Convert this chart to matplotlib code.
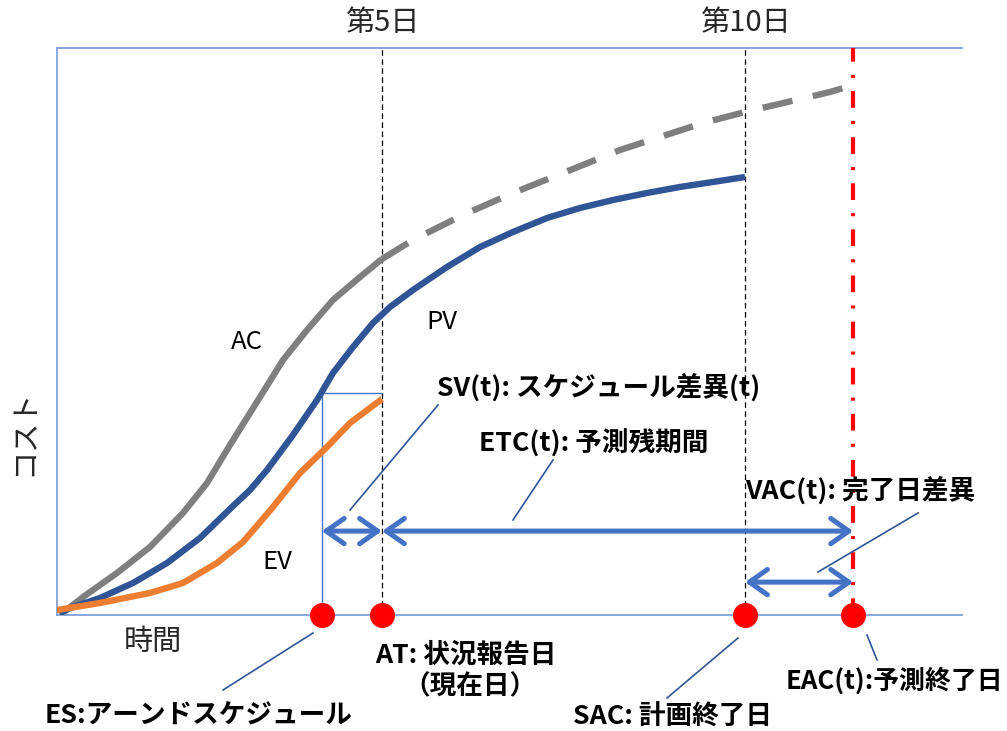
import matplotlib
matplotlib.use("Agg")
import matplotlib.pyplot as plt
from matplotlib.patches import FancyArrowPatch
from matplotlib.lines import Line2D

plt.rcParams['font.family'] = ['Noto Sans CJK JP', 'DejaVu Sans']
plt.rcParams['lines.scale_dashes'] = False

# ---- data (time in days, cost in arbitrary units 0-100) ----
pv_t = [0.565, 0.702, 1.116, 1.570, 2.039, 2.493, 2.948, 3.182, 3.416, 3.774, 4.105, 4.325,
        4.601, 4.876, 5.110, 5.427, 5.895, 6.350, 6.804, 7.273, 7.727, 8.182, 8.650, 9.105,
        9.559, 10.0]
pv_c = [0.35, 1.23, 3.00, 5.64, 9.17, 13.58, 19.22, 22.05, 25.57, 31.75, 37.92, 42.68,
        47.27, 51.50, 54.32, 57.32, 61.38, 64.90, 67.55, 70.02, 71.78, 73.19, 74.43, 75.49,
        76.37, 77.25]

ac_t = [0.565, 0.882, 1.350, 1.804, 2.259, 2.590, 2.906, 3.320, 3.636, 3.967, 4.325, 4.697, 5.0]
ac_c = [0.0, 3.17, 7.41, 11.99, 17.99, 23.28, 29.98, 38.45, 44.97, 50.26, 55.56, 59.61, 62.79]

ac_fc_t = [5.0, 5.427, 6.116, 6.804, 7.493, 8.278, 9.421, 10.0, 11.171, 11.49]
ac_fc_c = [62.79, 66.14, 70.55, 74.43, 77.95, 82.01, 86.77, 88.71, 92.24, 93.47]

ev_t = [0.523, 1.116, 1.804, 2.259, 2.727, 3.085, 3.499, 3.871, 4.242, 4.559, 5.0]
ev_c = [0.88, 2.12, 3.88, 5.64, 9.17, 12.87, 19.05, 25.04, 29.63, 33.86, 38.10]

es_day = 4.17     # earned schedule
at_day = 5.0      # actual time (status date)
sac_day = 10.0    # schedule at completion
eac_day = 11.49   # estimate at completion
ev_now = 39.1     # level of the ES projection

top_labels = ['第5日', '第10日']
top_days = [at_day, sac_day]

# ---- figure / axes ----
W, H = 1007, 731
fig = plt.figure(figsize=(W / 100, H / 100), dpi=100)
L, R, T, B = 57, 962, 48, 615
ax = fig.add_axes([L / W, 1 - B / H, (R - L) / W, (B - T) / H])
ppd = 72.6  # pixels per day
ax.set_xlim(5 + (L - 382) / ppd, 5 + (R - 382) / ppd)
ax.set_ylim(0, 100)
ax.set_xticks([])
ax.set_yticks([])
spine_col = '#7F9FDA'
for s in ['left', 'top', 'bottom']:
    ax.spines[s].set_color(spine_col)
    ax.spines[s].set_linewidth(1.3)
ax.spines['right'].set_visible(False)


def px(x, y):
    return (x / W, 1 - y / H)


# vertical reference lines
for d in top_days:
    ax.plot([d, d], [0, 100], color='black', lw=0.9, dashes=(4, 2.5), zorder=2)
ax.plot([eac_day, eac_day], [0, 100], color='#FF0000', lw=3.0,
        dashes=(12, 9.5, 2.2, 9.5), zorder=3)

# ES projection lines
ax.plot([es_day, at_day], [ev_now, ev_now], color='#4472C4', lw=1.0, zorder=2)
ax.plot([es_day, es_day], [0, ev_now], color='#4472C4', lw=1.0, zorder=2)

# curves
lw_c = 4.6
ax.plot(ac_t, ac_c, color='#7F7F7F', lw=lw_c, solid_joinstyle='round', solid_capstyle='butt', zorder=4)
ax.plot(ac_fc_t, ac_fc_c, color='#7F7F7F', lw=lw_c, dashes=(22, 15), zorder=4)
ax.plot(pv_t, pv_c, color='#2F5597', lw=lw_c, solid_joinstyle='round', solid_capstyle='butt', zorder=5)
ax.plot(ev_t, ev_c, color='#ED7D31', lw=lw_c, solid_joinstyle='round', solid_capstyle='butt', zorder=6)

# double arrows
arrow_col = '#4472C4'
y_arrow = 14.8
y_vac = 5.8
for x0, x1, y in [(es_day, at_day, y_arrow), (at_day, eac_day, y_arrow), (sac_day, eac_day, y_vac)]:
    a = FancyArrowPatch((x0, y), (x1, y), arrowstyle='<->,head_length=0.5,head_width=0.35',
                        mutation_scale=26, color=arrow_col, lw=3.6, shrinkA=0, shrinkB=0,
                        capstyle='round', joinstyle='round', zorder=7)
    ax.add_patch(a)

# red dots
ax.plot([es_day, at_day, sac_day, eac_day], [0, 0, 0, 0], 'o', color='#FF0000',
        markersize=17, clip_on=False, zorder=10)

# leader lines
lead_col = '#2F5597'
for (x0, y0, x1, y1) in [(438, 405, 350, 510), (553, 460, 513, 520), (918, 513, 818, 572),
                         (313, 633, 223, 690), (738, 638, 667, 698), (867, 635, 877, 660)]:
    a, b = px(x0, y0)
    c, d = px(x1, y1)
    fig.add_artist(Line2D([a, c], [b, d], color=lead_col, lw=1.2, transform=fig.transFigure))

# text
tc = '#262626'
for lab, d in zip(top_labels, top_days):
    fig.text(*px(382 + (d - 5) * ppd, 23), lab, ha='center', va='center', fontsize=21, color=tc)
fig.text(*px(153, 642), '時間', ha='center', va='center', fontsize=21, color=tc)
fig.text(*px(24, 432), 'コスト', ha='center', va='center', fontsize=21, color=tc, rotation=90)
fig.text(*px(247, 342), 'AC', ha='center', va='center', fontsize=18.5, color='black')
fig.text(*px(442, 322), 'PV', ha='center', va='center', fontsize=18.5, color='black')
fig.text(*px(277, 562), 'EV', ha='center', va='center', fontsize=18.5, color='black')

bold = dict(ha='left', va='center', fontsize=19.2, color='black', fontweight='bold')
fig.text(*px(437, 388), 'SV(t): スケジュール差異(t)', **bold)
fig.text(*px(479, 444), 'ETC(t): 予測残期間', **bold)
fig.text(*px(745, 491), 'VAC(t): 完了日差異', **bold)
fig.text(*px(375, 655), 'AT: 状況報告日', **bold)
fig.text(*px(403, 687), '（現在日）', **bold)
fig.text(*px(45, 716), 'ES:アーンドスケジュール', **bold)
fig.text(*px(573, 717), 'SAC: 計画終了日', **bold)
fig.text(*px(1003, 681), 'EAC(t):予測終了日', ha='right', va='center', fontsize=18.6,
         color='black', fontweight='bold')

fig.savefig('out.png', dpi=100)
